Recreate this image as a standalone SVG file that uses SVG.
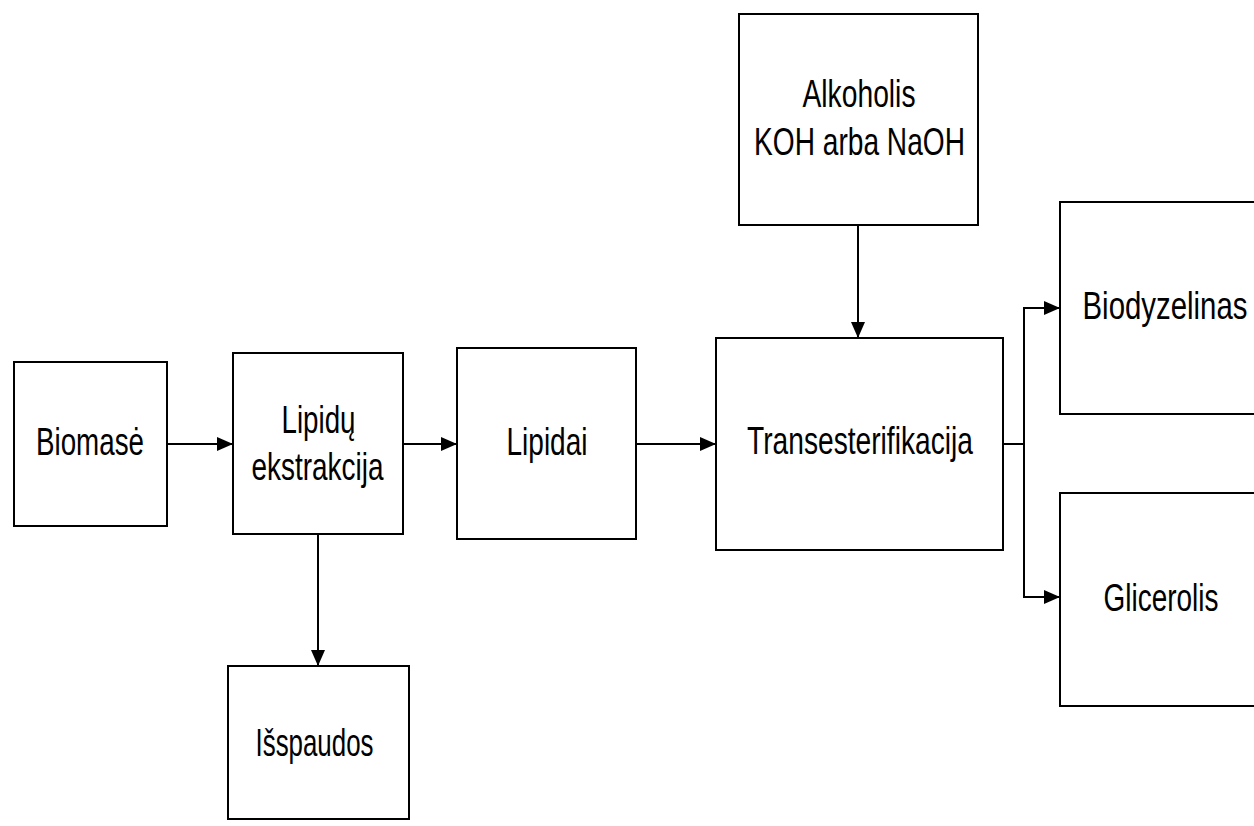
<svg xmlns="http://www.w3.org/2000/svg" width="1254" height="826" viewBox="0 0 1254 826">
<style>
.box{fill:#fff;stroke:#000;stroke-width:2}
.lbl{font-family:"Liberation Sans",Arial,sans-serif;font-size:39px;fill:#000;text-anchor:middle}
.con{fill:none;stroke:#000;stroke-width:2}
</style>
<defs>
<marker id="arr" viewBox="0 0 16 14" refX="16" refY="7" markerWidth="16" markerHeight="14" markerUnits="userSpaceOnUse" orient="auto">
<path d="M0,0 L16,7 L0,14 Z" fill="#000"/>
</marker>
</defs>
<rect width="1254" height="826" fill="#fff"/>
<g id="connectors">
<line class="con" x1="167" y1="444" x2="233" y2="444" marker-end="url(#arr)"/>
<line class="con" x1="403" y1="444" x2="457" y2="444" marker-end="url(#arr)"/>
<line class="con" x1="636" y1="444" x2="716" y2="444" marker-end="url(#arr)"/>
<line class="con" x1="858" y1="225" x2="858" y2="338" marker-end="url(#arr)"/>
<line class="con" x1="318" y1="534" x2="318" y2="666" marker-end="url(#arr)"/>
<line class="con" x1="1003" y1="444" x2="1024" y2="444"/>
<line class="con" x1="1024" y1="307" x2="1024" y2="598"/>
<line class="con" x1="1023" y1="308" x2="1060" y2="308" marker-end="url(#arr)"/>
<line class="con" x1="1023" y1="597" x2="1060" y2="597" marker-end="url(#arr)"/>
</g>
<g id="biomase">
<rect class="box" x="14" y="362" width="153" height="164"/>
<text class="lbl" x="90" y="455" textLength="108" lengthAdjust="spacingAndGlyphs">Biomasė</text>
</g>
<g id="lipidu-ekstrakcija">
<rect class="box" x="233" y="353" width="170" height="181"/>
<text class="lbl" x="318.5" y="433" textLength="74" lengthAdjust="spacingAndGlyphs">Lipidų</text>
<text class="lbl" x="317.5" y="480" textLength="132" lengthAdjust="spacingAndGlyphs">ekstrakcija</text>
</g>
<g id="lipidai">
<rect class="box" x="457" y="348" width="179" height="191"/>
<text class="lbl" x="547" y="455" textLength="81" lengthAdjust="spacingAndGlyphs">Lipidai</text>
</g>
<g id="transesterifikacija">
<rect class="box" x="716" y="338" width="287" height="212"/>
<text class="lbl" x="860" y="454" textLength="226" lengthAdjust="spacingAndGlyphs">Transesterifikacija</text>
</g>
<g id="alkoholis">
<rect class="box" x="739" y="14" width="239" height="211"/>
<text class="lbl" x="859" y="107" textLength="113" lengthAdjust="spacingAndGlyphs">Alkoholis</text>
<text class="lbl" x="859.5" y="155" textLength="211" lengthAdjust="spacingAndGlyphs">KOH arba NaOH</text>
</g>
<g id="isspaudos">
<rect class="box" x="228" y="666" width="181" height="153"/>
<text class="lbl" x="314.5" y="756" textLength="118" lengthAdjust="spacingAndGlyphs">Išspaudos</text>
</g>
<g id="biodyzelinas">
<path class="box" d="M1254,202 H1060 V414 H1254"/>
<text class="lbl" x="1165" y="319" textLength="165" lengthAdjust="spacingAndGlyphs">Biodyzelinas</text>
</g>
<g id="glicerolis">
<path class="box" d="M1254,493 H1060 V706 H1254"/>
<text class="lbl" x="1161" y="611" textLength="115" lengthAdjust="spacingAndGlyphs">Glicerolis</text>
</g>
</svg>
